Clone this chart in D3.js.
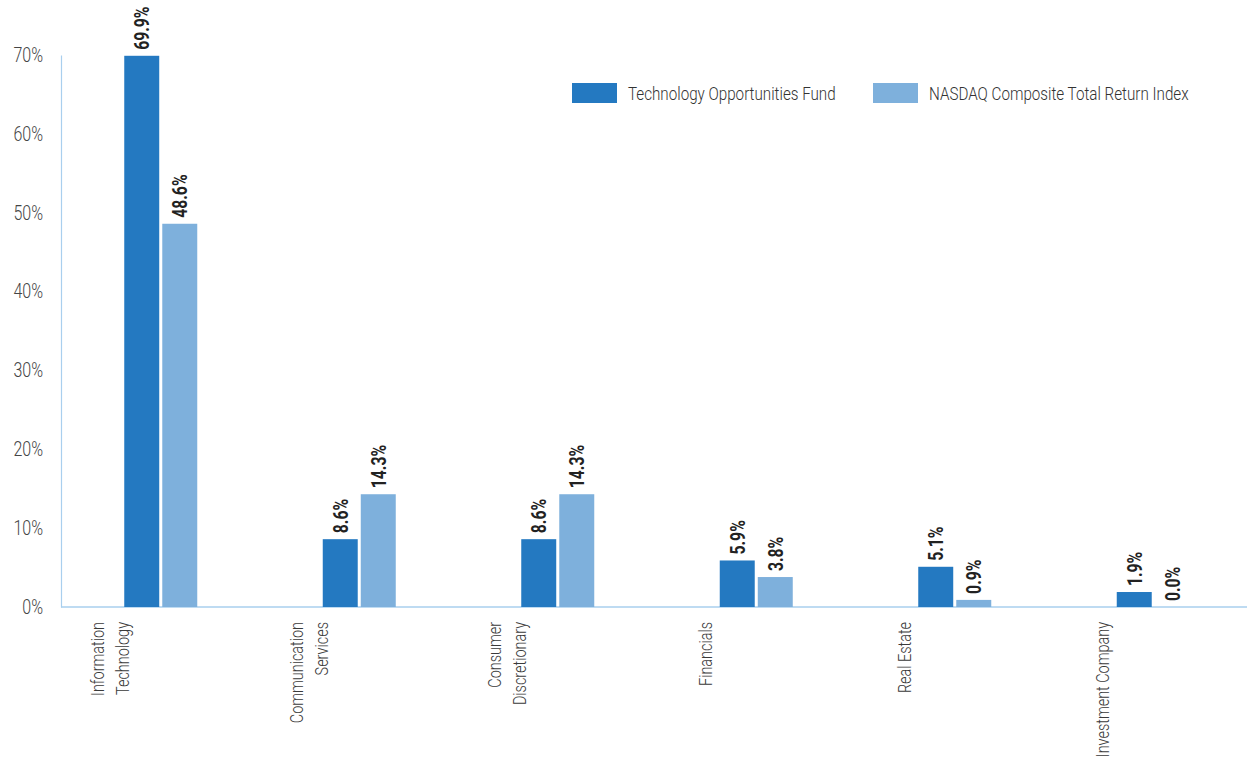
<!DOCTYPE html>
<html>
<head>
<meta charset="utf-8">
<script src="https://cdn.jsdelivr.net/npm/d3@7"></script>
<style>
  html, body { margin: 0; padding: 0; background: #fff; }
  svg { display: block; }
  text { font-family: Roboto, "Liberation Sans", "DejaVu Sans", sans-serif; }
</style>
</head>
<body>
<svg id="chart" width="1247" height="761"></svg>
<script>
// Sector weights (%) for the fund and its benchmark
const categories = [
  ["Information", "Technology"],
  ["Communication", "Services"],
  ["Consumer", "Discretionary"],
  ["Financials"],
  ["Real Estate"],
  ["Investment Company"]
];
const seriesNames = ["Technology Opportunities Fund", "NASDAQ Composite Total Return Index"];
const fundValues = [69.9, 8.6, 8.6, 5.9, 5.1, 1.9];
const indexValues = [48.6, 14.3, 14.3, 3.8, 0.9, 0.0];
const yTicks = [0, 10, 20, 30, 40, 50, 60, 70];

const colors = ["#2479c1", "#7eb0dc"];
const axisColor = "#a9cfee";
// horizontal squeeze applied to text to get a condensed face
const narrow = 0.8;
const narrowCat = 0.76;
const narrowBold = 0.75;

const svg = d3.select("#chart");
const margin = { left: 61, top: 55, bottom: 607, right: 1252 };

const keys = categories.map(c => c.join(" "));
const x0 = d3.scaleBand().domain(keys).range([margin.left, margin.right]);
const x1 = d3.scaleBand().domain(seriesNames).range([-36, 37]).paddingInner(0.08);
const y = d3.scaleLinear().domain([0, 70]).range([margin.bottom, margin.top]);

const rows = keys.map((k, i) => ({ key: k, values: [fundValues[i], indexValues[i]] }));

// y axis: line plus percentage labels, no tick marks
const yAxis = d3.axisLeft(y).tickValues(yTicks).tickFormat(d => d + "%").tickSize(0).tickPadding(0);
const gy = svg.append("g").attr("transform", `translate(${margin.left},0)`).call(yAxis);
gy.select(".domain").attr("stroke", axisColor).attr("stroke-width", 1.2);
gy.selectAll(".tick text")
  .attr("x", 0)
  .attr("transform", `translate(-18,0) scale(${narrow},1)`)
  .attr("font-size", 20).attr("font-weight", 300)
  .attr("fill", "#454545").attr("font-family", null);

// baseline
svg.append("line")
  .attr("x1", margin.left).attr("x2", 1247)
  .attr("y1", y(0)).attr("y2", y(0))
  .attr("stroke", axisColor).attr("stroke-width", 1.5);

// bars
const groups = svg.selectAll("g.cat").data(rows).join("g")
  .attr("class", "cat")
  .attr("transform", d => `translate(${x0(d.key) + x0.bandwidth() / 2},0)`);

groups.selectAll("rect").data(d => d.values.map((v, j) => ({ v, s: seriesNames[j], j })))
  .join("rect")
  .attr("x", d => x1(d.s))
  .attr("width", x1.bandwidth())
  .attr("y", d => y(d.v))
  .attr("height", d => y(0) - y(d.v))
  .attr("fill", d => colors[d.j]);

// value labels, rotated above each bar
groups.selectAll("text.val").data(d => d.values.map((v, j) => ({ v, s: seriesNames[j], j })))
  .join("text")
  .attr("class", "val")
  .attr("transform", d => `translate(${x1(d.s) + x1.bandwidth() / 2},${y(d.v) - 6}) rotate(-90) scale(${narrowBold},1)`)
  .attr("dy", "0.36em")
  .attr("font-size", 21)
  .attr("font-weight", "bold")
  .attr("fill", "#222")
  .text(d => d.v.toFixed(1) + "%");

// category labels, rotated and wrapped
const catLabels = svg.selectAll("text.cat").data(rows.map((r, i) => ({ key: r.key, lines: categories[i] })))
  .join("text")
  .attr("class", "cat")
  .attr("font-size", 19)
  .attr("font-weight", 300)
  .attr("fill", "#3a3a3a")
  .attr("text-anchor", "end")
  .attr("transform", d => `translate(${x0(d.key) + x0.bandwidth() / 2 - 50},622) rotate(-90) scale(${narrowCat},1)`);

catLabels.each(function (d) {
  const n = d.lines.length;
  const lh = 25;
  d3.select(this).selectAll("tspan").data(d.lines).join("tspan")
    .attr("x", 0)
    .attr("y", (l, i) => (i - (n - 1) / 2) * lh)
    .attr("dy", "0.35em")
    .text(l => l);
});

// legend
const legendX = [572, 873];
const legend = svg.selectAll("g.legend").data(seriesNames).join("g")
  .attr("class", "legend")
  .attr("transform", (d, i) => `translate(${legendX[i]},83)`);
legend.append("rect").attr("width", 45).attr("height", 20).attr("fill", (d, i) => colors[i]);
legend.append("text")
  .attr("transform", `translate(56,10) scale(${narrow},1)`)
  .attr("dy", "0.36em")
  .attr("font-size", 19).attr("font-weight", 300).attr("fill", "#333")
  .text(d => d);
</script>
</body>
</html>
